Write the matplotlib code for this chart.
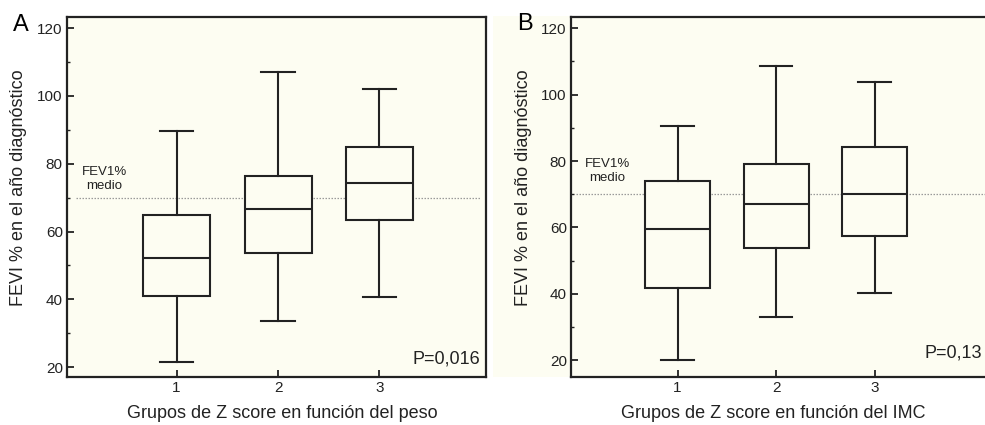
"""
FEVI % en el año diagnóstico por grupos de Z score (peso / IMC) - two box plot panels.
"""

import matplotlib
matplotlib.use("Agg")
import matplotlib.pyplot as plt
from matplotlib.patches import Rectangle
from matplotlib.ticker import MultipleLocator

# ---------------------------------------------------------------------------
# Data
# ---------------------------------------------------------------------------
GROUPS = [1, 2, 3]

# panel A - Z score en función del peso
A_WHISLO = [21.4, 33.7, 40.7]
A_Q1 = [41.1, 53.8, 63.5]
A_MED = [52.1, 66.8, 74.3]
A_Q3 = [64.9, 76.4, 85.0]
A_WHISHI = [89.8, 107.1, 102.1]

# panel B - Z score en función del IMC
B_WHISLO = [20.0, 33.0, 40.2]
B_Q1 = [41.8, 53.7, 57.4]
B_MED = [59.6, 67.0, 70.0]
B_Q3 = [73.9, 79.2, 84.3]
B_WHISHI = [90.6, 108.5, 103.9]

FEV1_MEAN = 70
YTICKS = [20, 40, 60, 80, 100, 120]

# ---------------------------------------------------------------------------
# Style
# ---------------------------------------------------------------------------
W, H = 985, 425
CREAM = "#fdfdf2"
INK = "#222222"
DOT = "#9a9a9a"

plt.rcParams["font.family"] = ["Liberation Sans", "DejaVu Sans"]


def px_axes(fig, left, top, right, bottom):
    ax = fig.add_axes([left / W, (H - bottom) / H, (right - left) / W, (bottom - top) / H])
    ax.set_zorder(2)
    return ax


def draw_panel(ax, whislo, q1, med, q3, whishi, xlim, ylim, xlabel, xlab_x,
               ylab_x, ptext, pxy, fev_xy, line_span):
    ax.set_facecolor(CREAM)
    stats = [dict(whislo=lo, q1=a, med=m, q3=b, whishi=hi, fliers=[])
             for lo, a, m, b, hi in zip(whislo, q1, med, q3, whishi)]
    ax.bxp(stats, positions=GROUPS, widths=0.66, capwidths=0.33,
           patch_artist=True, showfliers=False,
           boxprops=dict(facecolor=CREAM, edgecolor=INK, linewidth=1.5),
           medianprops=dict(color=INK, linewidth=1.5),
           whiskerprops=dict(color=INK, linewidth=1.5),
           capprops=dict(color=INK, linewidth=1.5), zorder=3)

    ax.axhline(FEV1_MEAN, xmin=line_span[0], xmax=line_span[1], color=DOT,
               linestyle=(0, (1.2, 1.2)), linewidth=0.9, zorder=1)
    ax.text(fev_xy[0], fev_xy[1], "FEV1%\nmedio", fontsize=9.5, color=INK,
            ha="center", va="center", linespacing=1.25, zorder=4)

    ax.set_xlim(*xlim)
    ax.set_ylim(*ylim)
    ax.set_xticks(GROUPS)
    ax.set_xticklabels([str(g) for g in GROUPS])
    ax.set_yticks(YTICKS)
    ax.yaxis.set_minor_locator(MultipleLocator(10))
    ax.tick_params(axis="both", which="major", direction="in", length=5,
                   width=1.3, color=INK, labelsize=11, labelcolor=INK, pad=3)
    ax.tick_params(axis="y", which="minor", direction="in", length=2,
                   width=1.0, color=INK)
    ax.tick_params(axis="x", which="minor", bottom=False)
    for sp in ax.spines.values():
        sp.set_linewidth(1.6)
        sp.set_color(INK)

    ax.set_ylabel("FEVI % en el año diagnóstico", fontsize=13, color=INK)
    ax.yaxis.set_label_coords(ylab_x, 0.525)
    ax.set_xlabel(xlabel, fontsize=13, color=INK)
    ax.xaxis.set_label_coords(xlab_x, -0.077)
    ax.text(pxy[0], pxy[1], ptext, transform=ax.transAxes, fontsize=13,
            color=INK, ha="right", va="center")


fig = plt.figure(figsize=(W / 100, H / 100), dpi=100)
fig.patch.set_facecolor("white")

# cream strip behind panel B's left side
fig.patches.append(Rectangle((493 / W, (H - 377) / H), (W - 493) / W, (377 - 16) / H,
                             transform=fig.transFigure, facecolor=CREAM,
                             edgecolor="none", zorder=-1))

ax_a = px_axes(fig, 67, 17, 486, 377)
draw_panel(ax_a, A_WHISLO, A_Q1, A_MED, A_Q3, A_WHISHI,
           xlim=(-0.08, 4.05), ylim=(17.1, 123.3),
           xlabel="Grupos de Z score en función del peso", xlab_x=0.513,
           ylab_x=-0.095, ptext="P=0,016", pxy=(0.986, 0.05),
           fev_xy=(0.29, 75.4), line_span=(0.021, 0.986))

ax_b = px_axes(fig, 571, 17, 1000, 377)
draw_panel(ax_b, B_WHISLO, B_Q1, B_MED, B_Q3, B_WHISHI,
           xlim=(-0.08, 4.27), ylim=(14.9, 123.4),
           xlabel="Grupos de Z score en función del IMC", xlab_x=0.471,
           ylab_x=-0.091, ptext="P=0,13", pxy=(0.957, 0.067),
           fev_xy=(0.29, 77.0), line_span=(0.012, 1.0))

fig.text(13 / W, (H - 25) / H, "A", fontsize=17, color="black", ha="left", va="center",
         zorder=3)
fig.text(517 / W, (H - 24) / H, "B", fontsize=17, color="black", ha="left", va="center",
         zorder=3)

fig.savefig("out.png", dpi=100, facecolor=fig.get_facecolor())
